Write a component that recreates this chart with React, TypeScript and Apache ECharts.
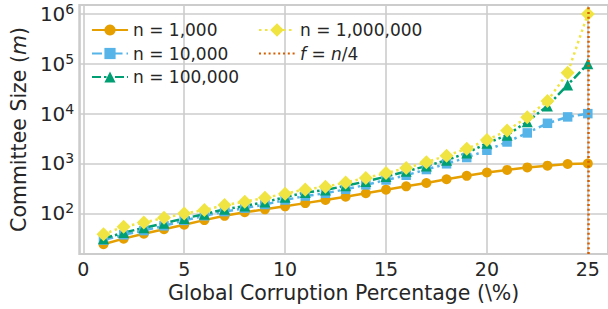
import React, { useEffect, useRef } from "react";
import * as echarts from "echarts";

const corruption = [1, 2, 3, 4, 5, 6, 7, 8, 9, 10, 11, 12, 13, 14, 15, 16, 17, 18, 19, 20, 21, 22, 23, 24, 25];
const n1k = [24, 31, 39, 48, 59, 73, 89, 105, 120, 138, 160, 185, 215, 252, 298, 348, 405, 483, 565, 658, 742, 834, 903, 977, 1000];
const n10k = [29, 37, 45, 56, 72, 89, 108, 127, 150, 185, 222, 252, 303, 372, 466, 580, 755, 985, 1315, 1840, 2700, 4100, 6400, 8600, 10000];
const n100k = [31, 41, 51, 63, 79, 96, 120, 140, 168, 210, 262, 292, 358, 435, 545, 695, 885, 1160, 1620, 2540, 3700, 6900, 14300, 37700, 100000];
const n1m = [38, 54, 65, 81, 99, 116, 146, 171, 205, 248, 300, 340, 417, 510, 640, 810, 1060, 1435, 1970, 2950, 4570, 8500, 18000, 66000, 1000000];
const boundaryX = 25;
const seriesNames = ["n = 1,000", "n = 10,000", "n = 100,000", "n = 1,000,000", "f = n/4"];

const FONT = "DejaVu Sans";
const TXT = "#262626";
const GRID = "#cccccc";

const pairs = (ys: number[]) => corruption.map((x, i) => [x, ys[i]]);

export default function App() {
  const ref = useRef<HTMLDivElement>(null);
  useEffect(() => {
    if (!ref.current) return;
    const chart = echarts.init(ref.current, null, { renderer: "svg" });
    const legendText = {
      fontFamily: FONT,
      fontSize: 17,
      color: TXT,
      lineHeight: 18,
      rich: { i: { fontFamily: FONT, fontSize: 17, fontStyle: "italic", color: TXT } },
    };
    const legendFmt = (name: string) => (name === "f = n/4" ? "{i|f} = {i|n}/4" : name);
    chart.setOption({
      animation: false,
      grid: { left: 77, right: 0, top: 5, bottom: 55, show: true, borderColor: GRID, borderWidth: 2 },
      legend: [
        {
          data: seriesNames.slice(0, 3),
          orient: "vertical",
          left: 86,
          top: 16,
          itemWidth: 36,
          itemHeight: 14,
          itemGap: 5.5,
          textStyle: legendText,
          formatter: legendFmt,
        },
        {
          data: [seriesNames[3], { name: seriesNames[4], itemStyle: { color: "rgba(0,0,0,0)", borderWidth: 0 } }],
          orient: "vertical",
          left: 253,
          top: 16,
          itemWidth: 36,
          itemHeight: 17,
          itemGap: 5.5,
          textStyle: legendText,
          formatter: legendFmt,
        },
      ],
      xAxis: {
        type: "value",
        min: -0.2,
        max: 26,
        name: "Global Corruption Percentage (\\%)",
        nameLocation: "middle",
        nameGap: 26,
        nameTextStyle: { fontFamily: FONT, fontSize: 20.5, color: TXT },
        axisLine: { show: false },
        axisTick: { show: false },
        axisLabel: { fontFamily: FONT, fontSize: 19, color: TXT, margin: 5, showMinLabel: false, showMaxLabel: false },
        splitLine: { show: true, lineStyle: { color: GRID, width: 1.6 } },
      },
      yAxis: {
        type: "log",
        min: 15.24,
        max: 1.515e6,
        name: "{a|Committee Size (}{i|m}{a|)}",
        nameLocation: "middle",
        nameGap: 46,
        nameTextStyle: {
          rich: {
            a: { fontFamily: FONT, fontSize: 20.5, color: TXT },
            i: { fontFamily: FONT, fontSize: 20.5, color: TXT, fontStyle: "italic" },
          },
        },
        axisLine: { show: false },
        axisTick: { show: false },
        axisLabel: {
          margin: 5,
          showMinLabel: false,
          showMaxLabel: false,
          formatter: (v: number) => `{b|10}{s|${Math.round(Math.log10(v))}}`,
          rich: {
            b: { fontFamily: FONT, fontSize: 20, color: TXT, lineHeight: 24 },
            s: { fontFamily: FONT, fontSize: 14, color: TXT, lineHeight: 24, verticalAlign: "top" },
          },
        },
        splitLine: { show: true, lineStyle: { color: GRID, width: 1.6 } },
      },
      series: [
        {
          name: seriesNames[0],
          type: "line",
          data: pairs(n1k),
          symbol: "circle",
          symbolSize: 10,
          itemStyle: { color: "#E69F00" },
          lineStyle: { color: "#E69F00", width: 2.5 },
        },
        {
          name: seriesNames[1],
          type: "line",
          data: pairs(n10k),
          symbol: "rect",
          symbolSize: 9.5,
          itemStyle: { color: "#56B4E9" },
          lineStyle: { color: "#56B4E9", width: 2.5, type: [10, 4, 2.5, 4] },
        },
        {
          name: seriesNames[2],
          type: "line",
          data: pairs(n100k),
          symbol: "triangle",
          symbolSize: 11,
          itemStyle: { color: "#009E73" },
          lineStyle: { color: "#009E73", width: 2.5, type: [9, 3, 2.5, 3, 2.5, 3] },
        },
        {
          name: seriesNames[3],
          type: "line",
          data: pairs(n1m),
          symbol: "diamond",
          symbolSize: 14,
          itemStyle: { color: "#F0E442" },
          lineStyle: { color: "#F0E442", width: 2.5, type: [2.5, 3.5] },
        },
        {
          name: seriesNames[4],
          type: "line",
          data: [],
          symbol: "none",
          itemStyle: { color: "#D55E00" },
          lineStyle: { color: "#D55E00", width: 2.5, type: [2, 2.8] },
          markLine: {
            silent: true,
            symbol: ["none", "none"],
            label: { show: false },
            lineStyle: { color: "#D55E00", width: 2.5, type: [2, 2.8] },
            data: [{ xAxis: boundaryX }],
          },
        },
      ],
    });
    return () => chart.dispose();
  }, []);
  return <div ref={ref} style={{ width: 608, height: 309, position: "absolute", left: 0, top: 0 }} />;
}
